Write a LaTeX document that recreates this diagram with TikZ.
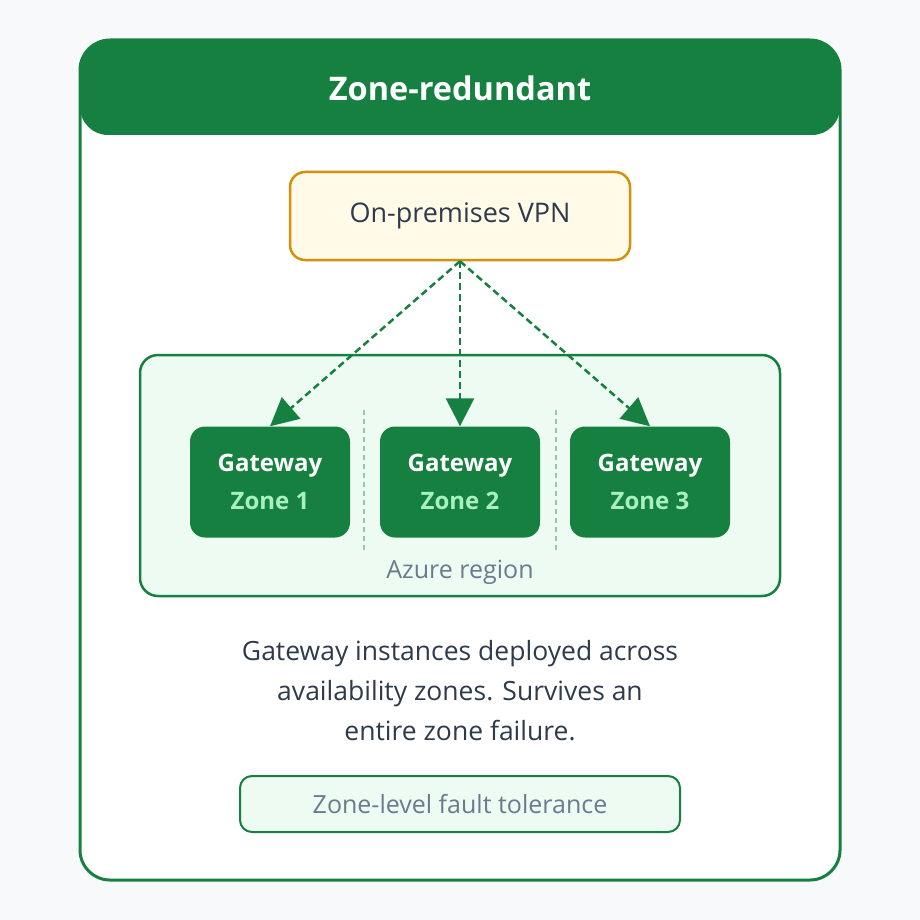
\documentclass[tikz,border=0pt]{standalone}
\usepackage{fontspec}
\setmainfont{Open Sans}
\usetikzlibrary{arrows.meta, positioning}
\definecolor{zgreen}{HTML}{168040}
\definecolor{zpale}{HTML}{EEFBF2}
\definecolor{zmint}{HTML}{A8F0C0}
\definecolor{zsand}{HTML}{FFFBE8}
\definecolor{zgold}{HTML}{D4900A}
\definecolor{zink}{HTML}{2F3A4A}
\definecolor{zgrey}{HTML}{6B7A8C}
\definecolor{zpage}{HTML}{F8F9FB}
\begin{document}
\begin{tikzpicture}[
    x=1pt, y=-1pt,
        gateway/.style = {draw=none, fill=zgreen, rounded corners=15pt,
                    minimum width=160pt, minimum height=111pt, align=center,
                    font=\fontsize{24}{40}\selectfont\bfseries, text=white},
        link/.style = {draw=zgreen, line width=2.5pt, dash pattern=on 7pt off 4pt,
                    arrows={-Triangle[length=20pt, width=20pt, scale=1.4]}},
        caption/.style = {font=\fontsize{26.5}{40}\selectfont, text=zink, align=center}
        ]
    \useasboundingbox[fill=zpage] (0,0) rectangle (920,920);

    % card and header
    \draw[zgreen, line width=3pt, fill=white, rounded corners=30pt] (80,40) rectangle (840,880);
    \fill[zgreen, rounded corners=28pt] (80,40) rectangle (840,135);
    \node[font=\fontsize{32.5}{36}\selectfont\bfseries, text=white] (title) at (460,88) {Zone-redundant};

    % on-premises side
    \node[draw=zgold, line width=2.5pt, fill=zsand, rounded corners=15pt,
          minimum width=340pt, minimum height=88pt,
          font=\fontsize{27}{28}\selectfont, text=zink] (vpn) at (460,216) {On-premises VPN};

    % azure region
    \draw[zgreen, line width=2.5pt, fill=zpale, rounded corners=18pt] (140,355) rectangle (780,596);
    \node[font=\fontsize{25}{26}\selectfont, text=zgrey] (region) at (460,572) {Azure region};
    \foreach \xs in {364,556}
        \draw[zgreen!45, line width=1.2pt, dash pattern=on 5pt off 4pt] (\xs,410) -- (\xs,550);

    \node[gateway] (gw-1) at (270,482) {Gateway\\[-2pt]\textcolor{zmint}{Zone 1}};
    \node[gateway] (gw-2) at (460,482) {Gateway\\[-2pt]\textcolor{zmint}{Zone 2}};
    \node[gateway] (gw-3) at (650,482) {Gateway\\[-2pt]\textcolor{zmint}{Zone 3}};

    \draw[link] (vpn.south) -- (gw-1.north);
    \draw[link] (vpn.south) -- (gw-2.north);
    \draw[link] (vpn.south) -- (gw-3.north);

    % summary
    \node[caption] (note) at (460,691) {Gateway instances deployed across\\availability zones. Survives an\\entire zone failure.};
    \node[draw=zgreen, line width=2pt, fill=zpale, rounded corners=12pt,
          minimum width=440pt, minimum height=56pt,
          font=\fontsize{25}{26}\selectfont, text=zgrey] (badge) at (460,804) {Zone-level fault tolerance};
\end{tikzpicture}
\end{document}
